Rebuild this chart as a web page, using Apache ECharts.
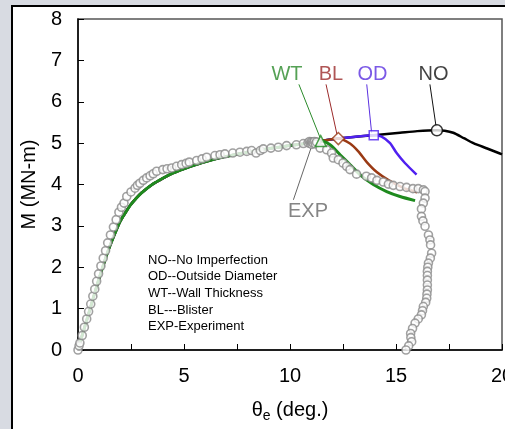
<!DOCTYPE html>
<html><head><meta charset="utf-8">
<script src="https://cdn.jsdelivr.net/npm/echarts@6/dist/echarts.min.js"></script>
<style>
html,body{margin:0;padding:0;width:505px;height:429px;overflow:hidden;background:#d8dbe2;}
#frame{position:absolute;left:11px;top:5px;width:520px;height:450px;background:#fff;border:2.5px solid #000;box-sizing:border-box;}
#c{position:absolute;left:0;top:0;width:505px;height:429px;}
</style>
</head><body><div id="frame"></div><div id="c"></div>
<script>
// ---- data ----
const commonX = [0, 0.2, 0.4, 0.6, 0.8, 1.0, 1.2, 1.4, 1.6, 1.8, 2.0, 2.25, 2.5, 2.75, 3.0, 3.5, 4.0, 4.5, 5.0, 5.5, 6.0, 7.0, 8.0, 9.0, 10.0, 11.0, 11.45];
const commonY = [0.02, 0.36, 0.70, 1.05, 1.40, 1.74, 2.06, 2.37, 2.64, 2.89, 3.12, 3.33, 3.52, 3.67, 3.80, 4.00, 4.15, 4.28, 4.38, 4.47, 4.55, 4.68, 4.78, 4.87, 4.94, 5.01, 5.05];

const noTailX = [12.28, 13.00, 13.95, 15.19, 16.00, 16.93, 17.30, 17.70, 18.20, 18.65, 19.30, 19.90, 20.00];
const noTailY = [5.11, 5.15, 5.19, 5.25, 5.29, 5.31, 5.30, 5.25, 5.12, 5.00, 4.87, 4.75, 4.73];
const odTailX = [12.28, 13.00, 13.95, 14.32, 14.72, 15.03, 15.42, 15.97];
const odTailY = [5.11, 5.15, 5.19, 5.16, 5.00, 4.76, 4.52, 4.24];
const blTailX = [11.90, 12.28, 12.83, 13.22, 13.62, 14.09, 14.72, 15.35, 15.82, 16.00];
const blTailY = [5.09, 5.11, 4.99, 4.80, 4.54, 4.30, 4.08, 3.92, 3.84, 3.81];
const wtTailX = [11.89, 12.36, 12.83, 13.38, 13.93, 14.56, 15.19, 15.90];
const wtTailY = [4.96, 4.72, 4.48, 4.20, 4.00, 3.83, 3.71, 3.61];

const expX = [0.00,0.05,0.09,0.20,0.30,0.41,0.50,0.60,0.70,0.79,0.88,0.97,1.08,1.19,1.30,1.40,1.53,1.67,1.80,1.93,2.05,2.17,2.30,2.50,2.69,2.80,2.92,3.08,3.24,3.40,3.55,3.71,4.00,4.20,4.42,4.65,4.89,5.10,5.25,5.60,5.85,6.07,6.46,6.70,6.93,7.30,7.64,7.96,8.19,8.40,8.60,8.74,9.10,9.45,9.84,10.30,10.63,10.85,10.92,10.95,11.00,11.03,11.05,11.10,11.15,11.20,11.25,
  11.42,11.73,11.96,12.04,12.28,12.50,12.67,12.83,13.14,13.60,13.85,14.10,14.40,14.64,14.87,15.19,15.50,15.80,16.05,16.29,16.37,16.37,16.29,16.20,16.20,16.27,16.37,16.53,16.60,16.63,16.68,16.62,16.53,16.50,16.48,16.48,16.48,16.48,16.48,16.46,16.45,16.40,16.29,16.25,16.20,16.05,15.90,15.78,15.69,15.70,15.74,15.60,15.47];
const expY = [0.00,0.10,0.17,0.35,0.55,0.75,0.93,1.11,1.30,1.47,1.66,1.84,2.03,2.22,2.40,2.59,2.78,2.97,3.15,3.33,3.45,3.55,3.71,3.82,3.91,3.98,4.03,4.10,4.16,4.21,4.26,4.32,4.36,4.38,4.40,4.44,4.48,4.51,4.54,4.58,4.62,4.66,4.70,4.72,4.74,4.76,4.78,4.80,4.82,4.76,4.82,4.86,4.88,4.90,4.94,4.96,4.99,5.01,5.04,4.99,5.03,4.97,5.02,5.00,5.04,4.98,5.03,
  4.88,4.84,4.76,4.64,4.60,4.52,4.44,4.36,4.25,4.20,4.16,4.10,4.06,4.01,3.98,3.95,3.93,3.90,3.90,3.87,3.83,3.67,3.55,3.41,3.23,3.12,2.99,2.78,2.66,2.54,2.34,2.22,2.10,2.00,1.90,1.80,1.69,1.57,1.45,1.35,1.25,1.15,1.05,0.95,0.85,0.75,0.65,0.52,0.40,0.30,0.20,0.10,0.00];

const markerNames = ['NO', 'OD', 'BL', 'WT'];
const markerX = [16.93, 13.95, 12.28, 11.45];
const markerY = [5.31, 5.19, 5.11, 5.05];

const annoNames = ['WT', 'BL', 'OD', 'NO', 'EXP'];
const annoTextX = [9.86, 11.93, 13.89, 16.77, 10.85];
const annoTextY = [6.66, 6.66, 6.66, 6.66, 3.34];
const leaderX0 = [10.42, 11.70, 13.62, 16.60, 10.16];
const leaderY0 = [6.42, 6.42, 6.42, 6.42, 3.63];
const leaderX1 = [11.42, 12.22, 13.85, 16.89, 11.07];
const leaderY1 = [5.13, 5.20, 5.25, 5.40, 5.00];

const legendLines = ['NO--No Imperfection', 'OD--Outside Diameter', 'WT--Wall Thickness', 'BL---Blister', 'EXP-Experiment'];

// ---- build ----
const pairs = (xs, ys) => xs.map((x, i) => [x, ys[i]]);
const common = pairs(commonX, commonY);
const FONT = '"Liberation Sans", Arial, sans-serif';
const colors = { NO: '#000000', OD: '#5020f0', BL: '#9a3a14', WT: '#1e8a1e', EXP: '#6a6a6a' };
const textColors = { NO: '#111111', OD: '#5a30e0', BL: '#9b2a2a', WT: '#2a8a2a', EXP: '#666666' };
const symbols = { NO: ['circle', 11], OD: ['rect', 9], BL: ['diamond', 12], WT: ['triangle', 11] };

function curve(name, tx, ty, w) {
  return {
    type: 'line', name: name, data: common.concat(pairs(tx, ty)),
    showSymbol: false, symbol: 'none', smooth: 0.25,
    lineStyle: { color: colors[name], width: w }, z: 2, silent: true, animation: false
  };
}

const series = [
  curve('NO', noTailX, noTailY, 2.5),
  curve('OD', odTailX, odTailY, 2.5),
  curve('BL', blTailX, blTailY, 2.5),
  curve('WT', wtTailX, wtTailY, 3),
];
annoNames.forEach((n, i) => {
  series.push({
    type: 'line', data: [[leaderX0[i], leaderY0[i]], [leaderX1[i], leaderY1[i]]],
    symbol: 'none', lineStyle: { color: textColors[n], width: 1 }, z: 3, animation: false, silent: true
  });
});
series.push({
  type: 'scatter', name: 'EXP', data: pairs(expX, expY), symbol: 'circle', symbolSize: 8,
  itemStyle: { color: '#ffffff', borderColor: '#8a8a8a', borderWidth: 1.6 }, z: 4, animation: false
});
series.push({
  type: 'scatter', data: markerNames.map((n, i) => ({
    value: [markerX[i], markerY[i]], symbol: symbols[n][0], symbolSize: symbols[n][1],
    itemStyle: { color: '#ffffff', borderColor: colors[n], borderWidth: 1.5 }
  })), z: 5, animation: false
});
series.push({
  type: 'scatter', data: annoNames.map((n, i) => ({
    value: [annoTextX[i], annoTextY[i]],
    label: { show: true, position: 'inside', formatter: n, color: textColors[n], fontSize: 20, fontFamily: FONT }
  })), symbolSize: 0, itemStyle: { color: 'transparent' }, z: 6, animation: false
});

const chart = echarts.init(document.getElementById('c'), null, { renderer: 'canvas' });
chart.setOption({
  backgroundColor: 'transparent',
  animation: false,
  grid: { left: 78, right: 3, top: 19, bottom: 79, outerBoundsMode: 'none', containLabel: false, show: true, borderColor: '#555', borderWidth: 1.5, backgroundColor: 'transparent' },
  xAxis: {
    type: 'value', min: 0, max: 20, interval: 2.5,
    name: '{t|θ}{s|e}{t| (deg.)}', nameLocation: 'middle', nameGap: 47,
    nameTextStyle: { rich: { t: { fontSize: 20, fontFamily: FONT, color: '#000', lineHeight: 26, verticalAlign: 'middle' }, s: { fontSize: 14, fontFamily: FONT, color: '#000', lineHeight: 26, verticalAlign: 'bottom', padding: [8, 0, 0, 0] } } },
    axisLine: { show: true, lineStyle: { color: '#000', width: 1.5 } },
    axisTick: { show: true, inside: true, length: 6, lineStyle: { color: '#000', width: 1 } },
    axisLabel: { fontSize: 20, fontFamily: FONT, color: '#000', margin: 16, formatter: v => (v % 5 === 0 ? String(v) : '') },
    splitLine: { show: false }
  },
  yAxis: {
    type: 'value', min: 0, max: 8, interval: 1,
    name: 'M (MN-m)', nameLocation: 'middle', nameGap: 38,
    nameTextStyle: { fontSize: 20, fontFamily: FONT, color: '#000' },
    axisLine: { show: true, lineStyle: { color: '#000', width: 1.5 } },
    axisTick: { show: true, inside: true, length: 6, lineStyle: { color: '#000', width: 1 } },
    axisLabel: { fontSize: 20, fontFamily: FONT, color: '#000', margin: 16 },
    splitLine: { show: false }
  },
  graphic: [{
    type: 'text', left: 148, top: 252,
    style: { text: legendLines.join('\n'), font: '13px ' + FONT, fill: '#000', lineHeight: 16.6 }
  }],
  series: series
});
</script>
</body></html>
